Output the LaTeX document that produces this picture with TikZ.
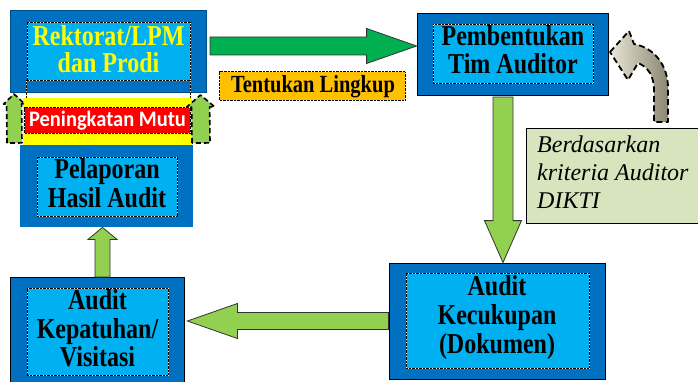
\documentclass[tikz,border=0pt]{standalone}
\usepackage{fontspec}
\usepackage{graphicx}
\setmainfont{Liberation Serif}
\newfontfamily\sansbold{Carlito}
\usetikzlibrary{calc}
\definecolor{dblue}{HTML}{0070C0}
\definecolor{lblue}{HTML}{00B0F0}
\definecolor{dgreen}{HTML}{00B050}
\definecolor{lgreen}{HTML}{92D050}
\definecolor{gold}{HTML}{FFC000}
\definecolor{sage}{HTML}{D7E4BD}
\definecolor{ylw}{HTML}{FFFF00}
\definecolor{rd}{HTML}{FF0000}
\definecolor{grl}{HTML}{EAE6D8}
\definecolor{grd}{HTML}{8A8672}
\newcommand\vs[1]{\scalebox{1}[1.2]{#1}}
\newcommand\blockarrow[6][]{%
  \coordinate (bac) at ($(#3)!#6!(#2)$);
  \draw[#1] ($(#2)!#4!90:(#3)$) -- ($(bac)!#4!90:(#3)$) -- ($(bac)!#5!90:(#3)$) -- (#3)
    -- ($(bac)!#5!-90:(#3)$) -- ($(bac)!#4!-90:(#3)$) -- ($(#2)!#4!-90:(#3)$) -- cycle;}
\begin{document}
\begin{tikzpicture}[x=1pt,y=-1pt,
  outerbox/.style={fill=dblue, draw=black, line width=0.8pt, inner sep=0pt},
  innerbox/.style={fill=lblue, draw=white, line width=0.7pt, inner sep=0pt,
     postaction={draw=black, line width=0.7pt, dash pattern=on 0.7pt off 0.7pt}},
  dotframe/.style={draw=white, line width=0.7pt,
     postaction={draw=black, line width=0.7pt, dash pattern=on 0.7pt off 0.7pt}},
  btxt/.style={font=\bfseries\fontsize{24}{28}\selectfont, align=center, inner sep=0pt},
  garrow/.style={fill=dgreen, draw=black!80, line width=0.8pt},
  larrow/.style={fill=lgreen, draw=black!80, line width=0.8pt},
  darrow/.style={fill=lgreen, draw=black, line width=1.6pt, dash pattern=on 5pt off 3pt, line join=round},
]
\useasboundingbox (0,0) rectangle (698,382);
\clip (0,0) rectangle (698,382);
% Rektorat
\node[outerbox, draw=dblue!70!black, minimum width=196pt, minimum height=82pt] (rek) at (108,51) {};
\node[innerbox, minimum width=163pt, minimum height=58pt] (reki) at (108.5,51) {};
\draw[dotframe] (reki.south west) -- ++(0,18);
\draw[dotframe] (reki.south east) -- ++(0,18);
\node[btxt, font=\bfseries\fontsize{24}{27}\selectfont, text=ylw] (rekt) at (108.5,48.7) {\vs{Rektorat/LPM}\\\vs{dan Prodi}};
% yellow band + red label
\node[fill=ylw, minimum width=169pt, minimum height=47pt, inner sep=0pt] (band) at (107.5,121.5) {};
\node[fill=rd, inner sep=0pt, minimum width=165pt, minimum height=25pt] (mutu) at (107.5,120.5) {};
\draw[dotframe] (mutu.south west) rectangle (mutu.north east);
\node[font=\sansbold\bfseries\fontsize{20.5}{24}\selectfont, text=white, inner sep=0pt] (mutut) at (107.5,121) {\scalebox{1}[1.08]{Peningkatan Mutu}};
% Pelaporan
\node[outerbox, draw=none, minimum width=173pt, minimum height=82pt] (pel) at (106.5,186) {};
\node[innerbox, minimum width=140pt, minimum height=59pt] (peli) at (107,186.5) {};
\node[btxt, font=\bfseries\fontsize{24}{29}\selectfont] (pelt) at (107,182.7) {\vs{Pelaporan}\\\vs{Hasil Audit}};
% Audit Kepatuhan
\node[outerbox, minimum width=174pt, minimum height=123pt] (kep) at (97,338.5) {};
\node[innerbox, minimum width=141pt, minimum height=87pt] (kepi) at (97.5,331.5) {};
\node[btxt, font=\bfseries\fontsize{24}{28.5}\selectfont] (kept) at (97.5,328.7) {\vs{Audit}\\\vs{Kepatuhan/}\\\vs{Visitasi}};
% Audit Kecukupan
\node[outerbox, minimum width=216pt, minimum height=116pt] (kec) at (497,321) {};
\node[innerbox, minimum width=183pt, minimum height=95pt] (keci) at (497.5,320.5) {};
\node[btxt, font=\bfseries\fontsize{24}{29}\selectfont] (kect) at (497,317.4) {\vs{Audit}\\\vs{Kecukupan}\\\vs{(Dokumen)}};
% Pembentukan
\node[outerbox, minimum width=191pt, minimum height=82pt] (pem) at (512.5,54) {};
\node[innerbox, minimum width=160pt, minimum height=59pt] (pemi) at (513,53.5) {};
\node[btxt, font=\bfseries\fontsize{24}{27.5}\selectfont] (pemt) at (513,49.5) {\vs{Pembentukan}\\\vs{Tim Auditor}};
% Tentukan Lingkup
\node[fill=gold, inner sep=0pt, minimum width=185pt, minimum height=28pt] (ling) at (312.5,86) {};
\draw[dotframe] (ling.south west) rectangle (ling.north east);
\node[font=\bfseries\fontsize{20.5}{24}\selectfont, inner sep=0pt] (lingt) at (313,86.8) {\vs{Tentukan Lingkup}};
% Berdasarkan
\node[fill=sage, draw=black, line width=0.8pt, minimum width=180pt, minimum height=95pt, inner sep=0pt] (ber) at (616,175.5) {};
\node[font=\itshape\fontsize{24}{28}\selectfont, align=left, anchor=north west, inner sep=0pt] (bert) at (537,135.5) {Berdasarkan\\kriteria Auditor\\DIKTI};
% arrows
\coordinate (a1s) at (210,46);
\coordinate (a1e) at ($(pem.west)+(0,-8)$);
\blockarrow[garrow]{a1s}{a1e}{9pt}{17.5pt}{50pt}
\coordinate (a2s) at (503,97);
\coordinate (a2e) at (kec.north -| a2s);
\blockarrow[larrow]{a2s}{a2e}{10pt}{18.5pt}{42pt}
\coordinate (a3e) at ($(kep.east |- kec.west)+(3,0)$);
\blockarrow[larrow]{kec.west}{a3e}{8.5pt}{17.5pt}{50pt}
\coordinate (a4s) at (102.5,277);
\coordinate (a4e) at (pel.south -| a4s);
\blockarrow[larrow]{a4s}{a4e}{7.5pt}{14.5pt}{12pt}
\coordinate (a5s) at (14.5,143);
\coordinate (a5e) at (14,94);
\blockarrow[darrow]{a5s}{a5e}{7.5pt}{10.5pt}{10pt}
\coordinate (a6s) at (201,143);
\coordinate (a6e) at (200.5,95);
\blockarrow[darrow]{a6s}{a6e}{9pt}{14pt}{12pt}
% curved arrow
\draw[left color=grl, right color=grd, draw=black, line width=1.8pt, dash pattern=on 6pt off 3.5pt, line join=round]
  (610,52) -- (629,31) -- (634,44) .. controls (655,48) and (668,66) .. (668,88) -- (668,122)
  -- (654,122) -- (654,90) .. controls (654,76) and (648,67) .. (638,63) -- (628,80) -- cycle;
\end{tikzpicture}
\end{document}
